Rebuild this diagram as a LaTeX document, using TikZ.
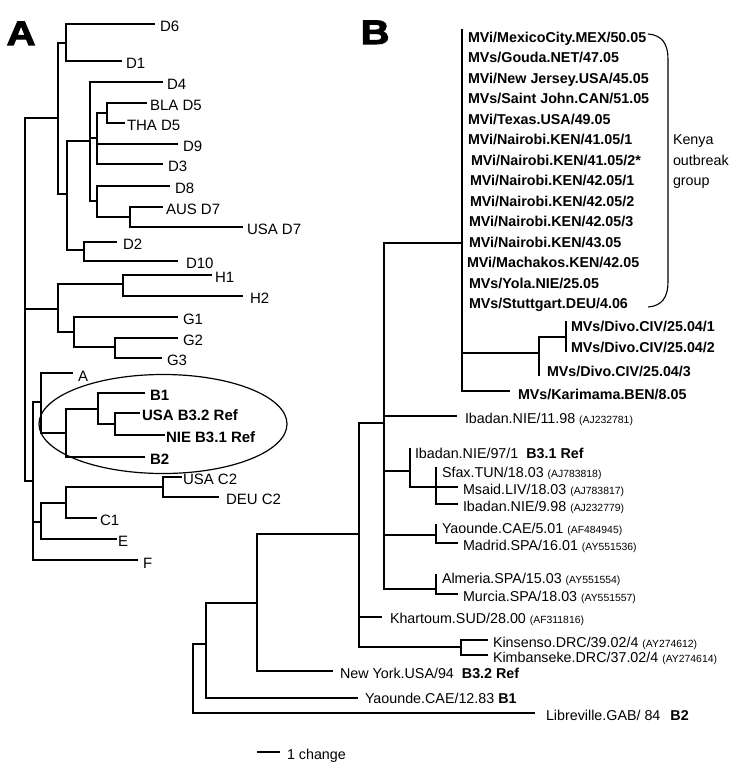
\documentclass[tikz,border=0pt]{standalone}
\usepackage{fontspec}
\setmainfont{Liberation Sans}
\newfontfamily\heavyfont{Liberation Sans}[FakeBold=3,FakeStretch=1.18]
\usetikzlibrary{shapes.geometric}
\newcommand{\acc}[1]{{\fontsize{10.4}{10.4}\selectfont #1}}
\begin{document}
\begin{tikzpicture}[x=1pt,y=-1pt,line width=1.2pt,line join=miter,
  br/.style={draw,line width=1.2pt},
  la/.style={anchor=base west,inner sep=0pt,outer sep=0pt,font=\fontsize{15}{15}\selectfont,yshift=-5.4pt},
  laB/.style={la,font=\fontsize{15}{15}\selectfont\bfseries},
  lb/.style={anchor=base west,inner sep=0pt,outer sep=0pt,font=\fontsize{14.3}{14.3}\selectfont,yshift=-5.1pt},
  lbB/.style={lb,font=\fontsize{14.3}{14.3}\selectfont\bfseries},
  panel/.style={anchor=base west,inner sep=0pt,font=\heavyfont\bfseries\fontsize{34}{34}\selectfont}]
\useasboundingbox (0,0) rectangle (750,776);

% ---------------- Panel letters
\node[panel] (letA) at (6,45) {A};
\node[panel] (letB) at (360,44) {B};

% ---------------- Panel A internal nodes
\coordinate (aR) at (25,300);
\coordinate (aD) at (58,118);
\coordinate (aD6) at (66,43);
\coordinate (aD2) at (67,194);
\coordinate (aD4) at (90,141);
\coordinate (aD5) at (97,138);
\coordinate (aBLA) at (107,113);
\coordinate (aD7g) at (97,201);
\coordinate (aD7) at (130,217);
\coordinate (aD10) at (84,250);
\coordinate (aHG) at (58,309);
\coordinate (aH) at (123,284);
\coordinate (aG) at (74,332);
\coordinate (aG2) at (115,347);
\coordinate (aABC) at (33,481);
\coordinate (aAB) at (41,402);
\coordinate (aB) at (66,433);
\coordinate (aB1) at (98,409);
\coordinate (aB3) at (115,424);
\coordinate (aCE) at (41,522);
\coordinate (aC) at (66,503);
\coordinate (aC2) at (163,487);
% leaf ends
\coordinate (lD6) at (155,24);
\coordinate (lD1) at (122,61);
\coordinate (lD4) at (163,82);
\coordinate (lBLA) at (147,103);
\coordinate (lTHA) at (125,123);
\coordinate (lD9) at (178,144);
\coordinate (lD3) at (163,164);
\coordinate (lD8) at (170,186);
\coordinate (lAUS) at (163,207);
\coordinate (lUSAD7) at (243,227);
\coordinate (lD2) at (117,242);
\coordinate (lD10) at (178,261);
\coordinate (lH1) at (212,275);
\coordinate (lH2) at (243,296);
\coordinate (lG1) at (178,317);
\coordinate (lG2) at (178,338);
\coordinate (lG3) at (162,358);
\coordinate (lA) at (73,373);
\coordinate (lB1) at (145,393);
\coordinate (lB32) at (140,413);
\coordinate (lB31) at (165,435);
\coordinate (lB2) at (145,457);
\coordinate (lUSAC2) at (182,477);
\coordinate (lDEUC2) at (219,497);
\coordinate (lC1) at (97,518);
\coordinate (lE) at (117,539);
\coordinate (lF) at (138,560);

% branches A
\foreach \p/\c in {aR/aD,aR/aHG,aR/aABC,aD/aD6,aD/aD2,aD6/lD6,aD6/lD1,
  aD2/aD4,aD2/aD10,aD4/lD4,aD4/aD5,aD4/aD7g,aD5/aBLA,aD5/lD9,aD5/lD3,
  aBLA/lBLA,aBLA/lTHA,aD7g/lD8,aD7g/aD7,aD7/lAUS,aD7/lUSAD7,aD10/lD2,aD10/lD10,
  aHG/aH,aHG/aG,aH/lH1,aH/lH2,aG/lG1,aG/aG2,aG2/lG2,aG2/lG3,
  aABC/aAB,aABC/aCE,aABC/lF,aAB/lA,aAB/aB,aB/aB1,aB/lB2,aB1/lB1,aB1/aB3,
  aB3/lB32,aB3/lB31,aCE/aC,aCE/lE,aC/aC2,aC/lC1,aC2/lUSAC2,aC2/lDEUC2}
  \draw[br] (\p) |- (\c);

% labels A
\node[la] (tD6) at (160,26) {D6};
\node[la] (tD1) at (126,63) {D1};
\node[la] (tD4) at (167,84) {D4};
\node[la] (tBLA) at (150,105) {BLA D5};
\node[la] (tTHA) at (127,125) {THA D5};
\node[la] (tD9) at (183,146) {D9};
\node[la] (tD3) at (168,166) {D3};
\node[la] (tD8) at (175,188) {D8};
\node[la] (tAUS) at (166,209) {AUS D7};
\node[la] (tUSAD7) at (247,229) {USA D7};
\node[la] (tD2) at (123,244) {D2};
\node[la] (tD10) at (186,263) {D10};
\node[la] (tH1) at (215,277) {H1};
\node[la] (tH2) at (250,298) {H2};
\node[la] (tG1) at (183,319) {G1};
\node[la] (tG2) at (183,340) {G2};
\node[la] (tG3) at (167,360) {G3};
\node[la] (tA) at (78,376) {A};
\node[laB] (tB1) at (150,395) {B1};
\node[laB] (tB32) at (142,415) {USA B3.2 Ref};
\node[laB] (tB31) at (166,437) {NIE B3.1 Ref};
\node[laB] (tB2) at (150,459) {B2};
\node[la] (tUSAC2) at (183,479) {USA C2};
\node[la] (tDEUC2) at (226,499) {DEU C2};
\node[la] (tC1) at (100,520) {C1};
\node[la] (tE) at (118,541) {E};
\node[la] (tF) at (143,563) {F};

% ellipse round B genotype
\node[draw,ellipse,line width=1.2pt,minimum width=248pt,minimum height=99pt,inner sep=0pt] (ellB) at (163,424) {};

% ---------------- Panel B internal nodes
\coordinate (bR) at (193,680);
\coordinate (b206) at (206,644);
\coordinate (b257) at (257,603);
\coordinate (b359) at (359,534);
\coordinate (b384) at (384,423);
\coordinate (b462) at (462,243);
\coordinate (b539) at (539,353);
\coordinate (b566) at (566,337);
\coordinate (b410) at (410,471);
\coordinate (b436a) at (436,487);
\coordinate (b436b) at (436,535);
\coordinate (b436c) at (436,589);
\coordinate (b461) at (461,647);
% leaf ends
\coordinate (mLib) at (535,713);
\coordinate (mYao83) at (358,698);
\coordinate (mNY) at (333,671);
\coordinate (mKha) at (382,617);
\coordinate (mKin) at (488,640);
\coordinate (mKim) at (488,655);
\coordinate (mIb11) at (457,416);
\coordinate (mIb97) at (410,448);
\coordinate (mSfax) at (436,467);
\coordinate (mMsaid) at (458,487);
\coordinate (mIb998) at (458,504);
\coordinate (mYao01) at (436,524);
\coordinate (mMad) at (458,543);
\coordinate (mAlm) at (436,574);
\coordinate (mMur) at (458,594);
\coordinate (mKar) at (510,391);
\coordinate (mDivo3) at (539,376);
\coordinate (mDivo1) at (566,321);
\coordinate (mDivo2) at (566,352);
\coordinate (mKtop) at (462,29);

\foreach \p/\c in {bR/mLib,bR/b206,b206/b257,b206/mYao83,b257/b359,b257/mNY,
  b359/b384,b359/mKha,b359/b461,b384/b462,b384/mIb11,b384/b410,b384/b436b,b384/b436c,
  b462/mKtop,b462/b539,b462/mKar,b539/b566,b539/mDivo3,b566/mDivo1,b566/mDivo2,
  b410/mIb97,b410/b436a,b436a/mSfax,b436a/mMsaid,b436a/mIb998,
  b436b/mYao01,b436b/mMad,b436c/mAlm,b436c/mMur,b461/mKin,b461/mKim}
  \draw[br] (\p) |- (\c);

% Kenya outbreak group labels
\node[lbB] (k0) at (468,37) {MVi/MexicoCity.MEX/50.05};
\node[lbB] (k1) at (468,57.5) {MVs/Gouda.NET/47.05};
\node[lbB] (k2) at (468,78) {MVi/New Jersey.USA/45.05};
\node[lbB] (k3) at (468,98.5) {MVs/Saint John.CAN/51.05};
\node[lbB] (k4) at (468,119) {MVi/Texas.USA/49.05};
\node[lbB] (k5) at (468,139.5) {MVi/Nairobi.KEN/41.05/1};
\node[lbB] (k6) at (471,160) {MVi/Nairobi.KEN/41.05/2*};
\node[lbB] (k7) at (470,180.5) {MVi/Nairobi.KEN/42.05/1};
\node[lbB] (k8) at (470,201) {MVi/Nairobi.KEN/42.05/2};
\node[lbB] (k9) at (469,221.5) {MVi/Nairobi.KEN/42.05/3};
\node[lbB] (k10) at (469,242) {MVi/Nairobi.KEN/43.05};
\node[lbB] (k11) at (467,262.5) {MVi/Machakos.KEN/42.05};
\node[lbB] (k12) at (469,283) {MVs/Yola.NIE/25.05};
\node[lbB] (k13) at (469,303.5) {MVs/Stuttgart.DEU/4.06};

% bracket
\coordinate (brT) at (648,34);
\coordinate (brB) at (648,307);
\draw[line width=1.1pt] (brT) .. controls (662,35) and (668,44) .. (668,59)
  -- (668,282) .. controls (668,297) and (662,306) .. (brB);
\node[lb] (ken1) at (673,139.5) {Kenya};
\node[lb] (ken2) at (673,160) {outbreak};
\node[lb] (ken3) at (673,180.5) {group};

\node[lbB] (tDivo1) at (571,326) {MVs/Divo.CIV/25.04/1};
\node[lbB] (tDivo2) at (571,347) {MVs/Divo.CIV/25.04/2};
\node[lbB] (tDivo3) at (547,371) {MVs/Divo.CIV/25.04/3};
\node[lbB] (tKar) at (518,394) {MVs/Karimama.BEN/8.05};

\node[lb] (tIb11) at (465,418) {Ibadan.NIE/11.98 \acc{(AJ232781)}};
\node[lb] (tIb97) at (415,453) {Ibadan.NIE/97/1\hspace{8pt}\textbf{B3.1 Ref}};
\node[lb] (tSfax) at (442,472) {Sfax.TUN/18.03 \acc{(AJ783818)}};
\node[lb] (tMsaid) at (463,489) {Msaid.LIV/18.03 \acc{(AJ783817)}};
\node[lb] (tIb998) at (463,506) {Ibadan.NIE/9.98 \acc{(AJ232779)}};
\node[lb] (tYao01) at (442,528) {Yaounde.CAE/5.01 \acc{(AF484945)}};
\node[lb] (tMad) at (463,545) {Madrid.SPA/16.01 \acc{(AY551536)}};
\node[lb] (tAlm) at (442,578) {Almeria.SPA/15.03 \acc{(AY551554)}};
\node[lb] (tMur) at (463,596) {Murcia.SPA/18.03 \acc{(AY551557)}};
\node[lb] (tKha) at (390,618) {Khartoum.SUD/28.00 \acc{(AF311816)}};
\node[lb] (tKin) at (493,642) {Kinsenso.DRC/39.02/4 \acc{(AY274612)}};
\node[lb] (tKim) at (493,657) {Kimbanseke.DRC/37.02/4 \acc{(AY274614)}};
\node[lb] (tNY) at (340,673) {New York.USA/94\hspace{8pt}\textbf{B3.2 Ref}};
\node[lb] (tYao83) at (365,698) {Yaounde.CAE/12.83 \textbf{B1}};
\node[lb] (tLib) at (546,715) {Libreville.GAB/ 84\hspace{10pt}\textbf{B2}};

% scale bar
\coordinate (sc1) at (257,752);
\coordinate (sc2) at (280,752);
\draw[line width=1.1pt] (sc1) -- (sc2);
\node[lb] (tsc) at (287,754) {1 change};
\end{tikzpicture}
\end{document}
